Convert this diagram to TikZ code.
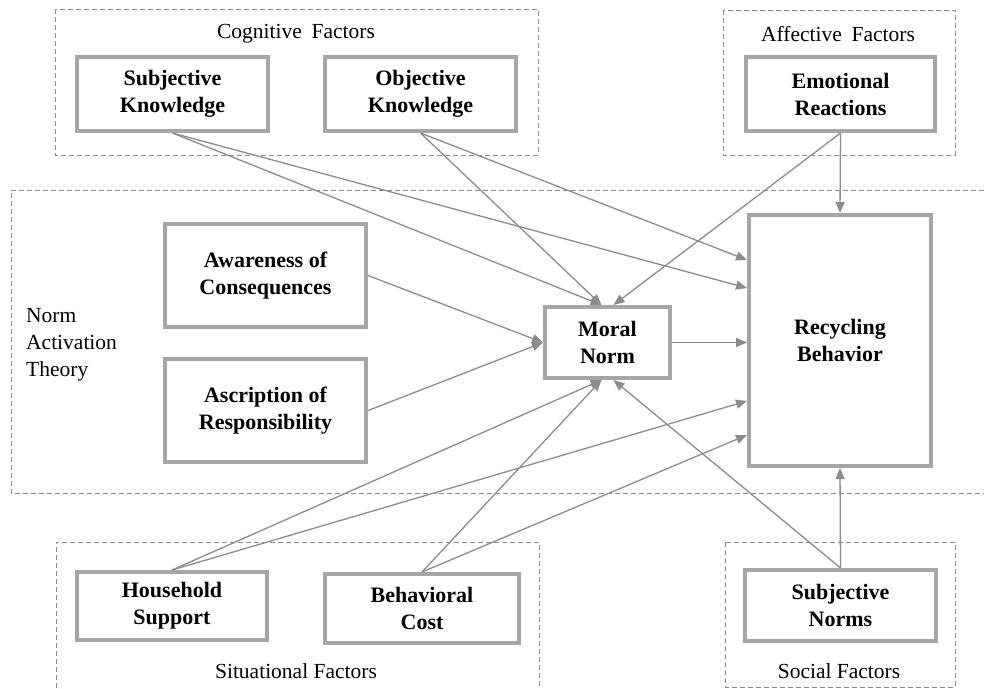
\documentclass[tikz,border=0pt]{standalone}
\usepackage{fontspec}
\setmainfont{Liberation Serif}
\usetikzlibrary{arrows.meta,calc}
\definecolor{framegray}{HTML}{A6A6A6}
\definecolor{linkgray}{HTML}{8C8C8C}
\definecolor{groupgray}{HTML}{8C8C8C}
\begin{document}
\begin{tikzpicture}[x=1pt,y=-1pt,
  factor/.style={draw=framegray, line width=4pt, fill=white, align=center,
    inner sep=0pt, font=\fontsize{22}{27}\selectfont\bfseries},
  group/.style={draw=groupgray, line width=0.9pt, dash pattern=on 5pt off 3pt},
  grouplabel/.style={font=\fontsize{21.5}{27}\selectfont, inner sep=0pt},
  link/.style={draw=linkgray, line width=1.3pt, -{Triangle[length=11pt,width=9pt]}},
]
\useasboundingbox (0,0) rectangle (984,688);
\fill[white] (0,0) rectangle (984,688);

% dashed group frames
\draw[group] (55,9) rectangle (538,155);
\draw[group] (723,10) rectangle (955,155);
\draw[group] (992,190) -- (11,190) -- (11,493) -- (992,493);
\draw[group] (56,696) -- (56,542) -- (539,542) -- (539,696);
\draw[group] (725,542) rectangle (955,687);

% group labels
\node[grouplabel] (cogLabel) at (296,34) {Cognitive\hspace{0.45em}Factors};
\node[grouplabel] (affLabel) at (838,34) {Affective\hspace{0.45em}Factors};
\node[grouplabel] (sitLabel) at (296,671) {Situational Factors};
\node[grouplabel] (socLabel) at (839,671) {Social Factors};
\node[grouplabel, align=left, anchor=west] (natLabel) at (26,345) {Norm\\Activation\\Theory};

% factor boxes
\node[factor, minimum width=191pt, minimum height=74pt] (sk) at (172.5,94) {Subjective\\Knowledge};
\node[factor, minimum width=191pt, minimum height=74pt] (ok) at (420.5,94) {Objective\\Knowledge};
\node[factor, minimum width=189pt, minimum height=74pt] (er) at (840.5,94) {Emotional\\Reactions};
\node[factor, minimum width=201pt, minimum height=103pt] (ac) at (265.5,275.5) {Awareness of\\Consequences};
\node[factor, minimum width=201pt, minimum height=103pt] (ar) at (265.5,410.5) {Ascription of\\Responsibility};
\node[factor, minimum width=125pt, minimum height=71pt] (mn) at (607.5,342.5) {Moral\\Norm};
\node[factor, minimum width=182pt, minimum height=251pt] (rb) at (840,340.5) {Recycling\\Behavior};
\node[factor, minimum width=190pt, minimum height=68pt] (hs) at (172,606) {Household\\Support};
\node[factor, minimum width=194pt, minimum height=69pt] (bc) at (422,608.5) {Behavioral\\Cost};
\node[factor, minimum width=191pt, minimum height=71pt] (sn) at (840.5,605.5) {Subjective\\Norms};

% arrow landing points
\coordinate (mnTopA) at ($(mn.north)+(-6,0)$);
\coordinate (mnTopB) at ($(mn.north)+(6,0)$);
\coordinate (mnBotA) at ($(mn.south)+(-6,0)$);
\coordinate (mnBotB) at ($(mn.south)+(6,0)$);
\coordinate (rbA) at ($(rb.north west)+(0,47)$);
\coordinate (rbB) at ($(rb.north west)+(0,75)$);
\coordinate (rbD) at ($(rb.north west)+(0,188)$);
\coordinate (rbE) at ($(rb.north west)+(0,222)$);

% connectors
\draw[link] (sk.south) -- (mnTopA);
\draw[link] (sk.south) -- (rbB);
\draw[link] (ok.south) -- (mnTopA);
\draw[link] (ok.south) -- (rbA);
\draw[link] (er.south) -- (mnTopB);
\draw[link] (er.south) -- (rb.north);
\draw[link] (ac.east) -- (mn.west);
\draw[link] (ar.east) -- (mn.west);
\draw[link] (mn.east) -- (mn.east -| rb.west);
\draw[link] (hs.north) -- (mnBotA);
\draw[link] (hs.north) -- (rbD);
\draw[link] (bc.north) -- (mnBotA);
\draw[link] (bc.north) -- (rbE);
\draw[link] (sn.north) -- (mnBotB);
\draw[link] (sn.north) -- (rb.south);
\end{tikzpicture}
\end{document}
